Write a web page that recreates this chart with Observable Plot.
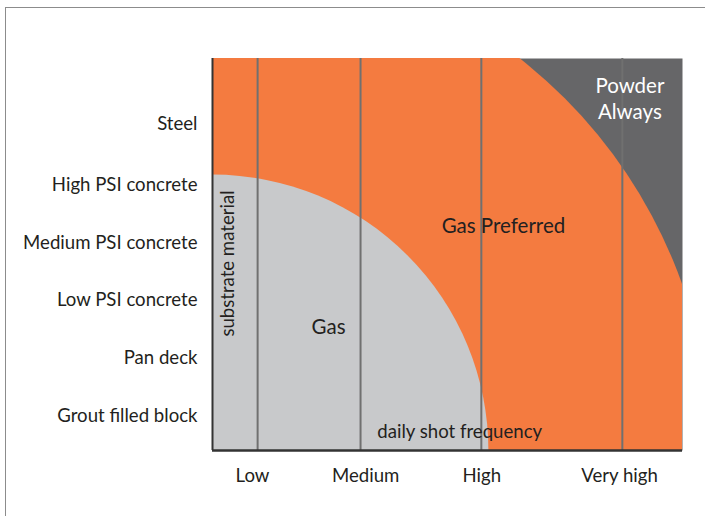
<!DOCTYPE html>
<html>
<head>
<meta charset="utf-8">
<script src="https://cdn.jsdelivr.net/npm/d3@7"></script>
<script src="https://cdn.jsdelivr.net/npm/@observablehq/plot@0.6"></script>
<style>
  html, body { margin: 0; padding: 0; background: #fff; overflow: hidden; }
  #wrap { position: relative; width: 705px; height: 516px; }
  #border { position: absolute; left: 5px; top: 7px; width: 760px; height: 560px;
            border-left: 1.5px solid #8c8c8c; border-top: 1.5px solid #8c8c8c; pointer-events: none; }
  #chart { position: absolute; left: 0; top: 0; }
</style>
</head>
<body>
<div id="wrap"><div id="chart"></div><div id="border"></div></div>
<script>
// Substrate materials (y axis), bottom to top, and their vertical positions (0–100 scale)
const materials = ["Grout filled block", "Pan deck", "Low PSI concrete", "Medium PSI concrete", "High PSI concrete", "Steel"];
const materialPos = [8.8, 23.6, 38.3, 52.8, 67.7, 83.3];

// Daily shot frequency (x axis): gridline positions and tick-label positions (0–100 scale)
const frequencies = ["Low", "Medium", "High", "Very high"];
const frequencyGrid = [9.6, 31.5, 57.2, 87.2];
const frequencyLabelPos = [8.5, 32.6, 57.3, 86.6];

// Zones: how far along the frequency axis each zone reaches at the bottom (0–100 scale)
const zones = ["Gas Preferred", "Gas"];
const zoneReach = [106, 58.7];
const zoneColors = ["#f47b40", "#c8c9cb"];

// Zone labels and their positions
const zoneLabels = ["Gas", "Gas Preferred", "Powder\nAlways"];
const zoneLabelX = [24.7, 61.9, 88.8];
const zoneLabelY = [31.8, 57.5, 90.1];
const zoneLabelColors = ["#231f20", "#231f20", "#ffffff"];

const W = 705, H = 516, mL = 212, mR = 23, mT = 58, mB = 66;
const plotW = W - mL - mR;
const font = "Lato, 'Open Sans', sans-serif";
const ink = "#231f20";

const origin = [{x: 0, y: 0}];

const chart = Plot.plot({
  width: W, height: H,
  marginLeft: mL, marginRight: mR, marginTop: mT, marginBottom: mB,
  x: {domain: [0, 100], axis: null},
  y: {domain: [0, 100], axis: null},
  style: {fontFamily: font, background: "transparent", overflow: "visible"},
  marks: [
    Plot.frame({fill: "#666668", stroke: null}),
    ...zones.map((z, i) => Plot.dot(origin, {
      x: "x", y: "y",
      r: zoneReach[i] / 100 * plotW,
      fill: zoneColors[i], stroke: null, clip: "frame"
    })),
    Plot.ruleX(frequencyGrid, {stroke: "#707070", strokeWidth: 2}),
    Plot.ruleX([0], {stroke: "#333333", strokeWidth: 2}),
    Plot.ruleY([0], {stroke: "#333333", strokeWidth: 2.5}),
    Plot.text(materials, {
      frameAnchor: "left", y: (d, i) => materialPos[i], text: d => d,
      textAnchor: "end", lineAnchor: "middle", dx: -15, fontSize: 18.6, fill: ink
    }),
    Plot.text(frequencies, {
      frameAnchor: "bottom", x: (d, i) => frequencyLabelPos[i], text: d => d,
      lineAnchor: "middle", dy: 26, fontSize: 18.6, fill: ink
    }),
    Plot.text(zoneLabels, {
      x: (d, i) => zoneLabelX[i], y: (d, i) => zoneLabelY[i], text: d => d,
      fill: (d, i) => zoneLabelColors[i], fontSize: 20.5, lineHeight: 1.27
    }),
    Plot.text(["substrate material"], {
      x: () => 3.4, y: () => 47.7, text: d => d, rotate: -90, fontSize: 18.6, fill: ink
    }),
    Plot.text(["daily shot frequency"], {
      x: () => 52.6, y: () => 4.6, text: d => d, fontSize: 18.6, fill: ink
    })
  ]
});
document.getElementById("chart").append(chart);
</script>
</body>
</html>
